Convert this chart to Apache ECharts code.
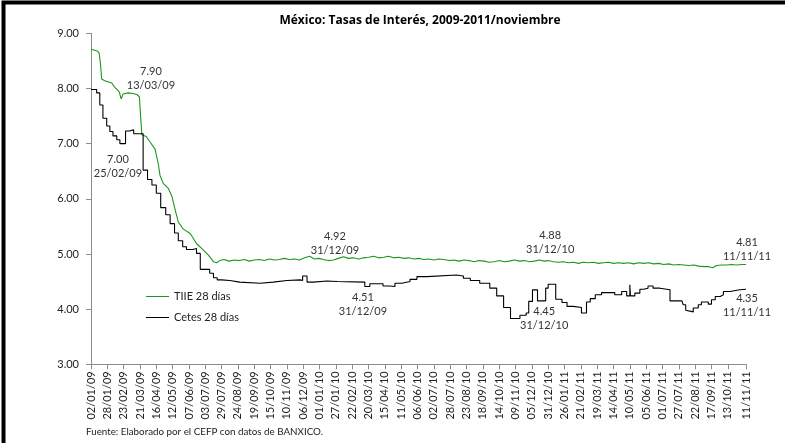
<!DOCTYPE html>
<html><head><meta charset="utf-8">
<script src="https://cdn.jsdelivr.net/npm/echarts@6/dist/echarts.min.js"></script>
<style>html,body{margin:0;padding:0;background:#fff}#c{width:785px;height:443px}</style>
</head><body><div id="c"></div>
<script>
// ---------- DATA ----------
const titleText = 'México: Tasas de Interés, 2009-2011/noviembre';
const sourceText = 'Fuente: Elaborado por el CEFP con datos de BANXICO.';
const seriesNames = ['TIIE 28 días', 'Cetes 28 días'];
const firstDay = [2009, 1, 2];
const lastDay = [2011, 11, 11];
const labelStep = 26; // one tick label every 26 days, plus the last day
const yTicks = [3, 4, 5, 6, 7, 8, 9];

const tiieDates = ['02/01/09','12/01/09','15/01/09','17/01/09','19/01/09','24/01/09','04/02/09','09/02/09','16/02/09','19/02/09','22/02/09','02/03/09','10/03/09','13/03/09','16/03/09','20/03/09','22/03/09','24/03/09','31/03/09','06/04/09','14/04/09','19/04/09','22/04/09','27/04/09','05/05/09','11/05/09','16/05/09','21/05/09','29/05/09','09/06/09','19/06/09','30/06/09','08/07/09','16/07/09','21/07/09','26/07/09','02/08/09','10/08/09','18/08/09','26/08/09','03/09/09','11/09/09','19/09/09','27/09/09','05/10/09','13/10/09','21/10/09','29/10/09','06/11/09','14/11/09','22/11/09','30/11/09','08/12/09','16/12/09','24/12/09','31/12/09','07/01/10','15/01/10','23/01/10','31/01/10','08/02/10','16/02/10','24/02/10','04/03/10','12/03/10','20/03/10','28/03/10','05/04/10','13/04/10','21/04/10','29/04/10','07/05/10','15/05/10','23/05/10','31/05/10','08/06/10','16/06/10','24/06/10','02/07/10','10/07/10','18/07/10','26/07/10','03/08/10','11/08/10','19/08/10','27/08/10','04/09/10','12/09/10','20/09/10','28/09/10','06/10/10','14/10/10','22/10/10','30/10/10','07/11/10','15/11/10','23/11/10','01/12/10','09/12/10','17/12/10','25/12/10','31/12/10','08/01/11','16/01/11','24/01/11','01/02/11','09/02/11','17/02/11','25/02/11','05/03/11','13/03/11','21/03/11','29/03/11','06/04/11','14/04/11','22/04/11','30/04/11','08/05/11','16/05/11','24/05/11','01/06/11','09/06/11','17/06/11','25/06/11','03/07/11','11/07/11','19/07/11','27/07/11','04/08/11','12/08/11','20/08/11','28/08/11','05/09/11','13/09/11','19/09/11','25/09/11','03/10/11','11/10/11','19/10/11','27/10/11','04/11/11','11/11/11'];
const tiieValues = [8.71,8.68,8.64,8.46,8.17,8.14,8.10,8.02,7.94,7.81,7.90,7.92,7.91,7.90,7.89,7.85,7.49,7.16,7.13,7.03,6.90,6.64,6.42,6.28,6.19,6.04,5.80,5.58,5.45,5.37,5.19,5.07,4.98,4.86,4.84,4.88,4.90,4.87,4.89,4.88,4.90,4.87,4.89,4.90,4.88,4.91,4.89,4.90,4.92,4.90,4.91,4.89,4.93,4.96,4.91,4.92,4.90,4.88,4.89,4.92,4.95,4.92,4.93,4.91,4.93,4.94,4.96,4.93,4.94,4.96,4.93,4.94,4.92,4.93,4.91,4.92,4.90,4.91,4.89,4.91,4.90,4.88,4.89,4.87,4.89,4.88,4.86,4.88,4.87,4.85,4.86,4.88,4.86,4.87,4.89,4.87,4.88,4.86,4.87,4.89,4.87,4.88,4.86,4.85,4.86,4.84,4.85,4.83,4.85,4.84,4.85,4.83,4.84,4.85,4.83,4.84,4.83,4.84,4.82,4.84,4.83,4.84,4.82,4.83,4.81,4.82,4.80,4.81,4.80,4.79,4.80,4.78,4.77,4.77,4.75,4.79,4.80,4.80,4.81,4.80,4.81,4.81];

const cetesDates = ['02/01/09','11/01/09','16/01/09','21/01/09','27/01/09','01/02/09','06/02/09','12/02/09','17/02/09','26/02/09','04/03/09','11/03/09','26/03/09','02/04/09','09/04/09','16/04/09','23/04/09','01/05/09','08/05/09','15/05/09','21/05/09','28/05/09','03/06/09','13/06/09','19/06/09','25/06/09','10/07/09','16/07/09','22/07/09','29/07/09','11/08/09','27/08/09','28/09/09','19/10/09','10/11/09','01/12/09','05/12/09','12/12/09','22/12/09','13/01/10','29/01/10','14/03/10','22/03/10','12/04/10','23/04/10','01/05/10','12/05/10','25/05/10','05/06/10','21/06/10','07/08/10','18/08/10','29/08/10','13/09/10','29/09/10','10/10/10','21/10/10','01/11/10','16/11/10','26/11/10','30/11/10','06/12/10','14/12/10','27/12/10','31/12/10','12/01/11','22/01/11','30/01/11','09/02/11','22/02/11','02/03/11','08/03/11','16/03/11','26/03/11','16/04/11','27/04/11','05/05/11','10/05/11','11/05/11','18/05/11','26/05/11','01/06/11','08/06/11','16/06/11','27/06/11','13/07/11','01/08/11','03/08/11','07/08/11','10/08/11','19/08/11','27/08/11','01/09/11','12/09/11','17/09/11','23/09/11','01/10/11','06/10/11','17/10/11','21/10/11','01/11/11','11/11/11'];
const cetesValues = [7.98,7.92,7.70,7.46,7.32,7.22,7.14,7.07,7.00,7.23,7.25,7.18,6.52,6.35,6.25,6.10,5.84,5.71,5.55,5.38,5.24,5.13,5.08,5.10,5.01,4.72,4.65,4.57,4.53,4.52,4.49,4.47,4.49,4.52,4.53,4.52,4.60,4.49,4.51,4.50,4.49,4.41,4.46,4.42,4.41,4.47,4.50,4.54,4.59,4.62,4.60,4.56,4.52,4.47,4.38,4.24,4.03,3.83,3.89,3.93,4.14,4.35,4.15,4.38,4.45,4.18,4.12,4.05,4.03,3.93,4.13,4.19,4.26,4.30,4.26,4.32,4.24,4.44,4.24,4.29,4.36,4.38,4.42,4.38,4.35,4.15,4.12,4.08,3.98,3.95,4.02,4.08,4.13,4.09,4.17,4.23,4.26,4.32,4.33,4.35,4.36,4.35];

// annotated points: series index, date, value
const annotSeries = [0, 1, 0, 1, 0, 1, 0, 1];
const annotDates  = ['13/03/09','25/02/09','31/12/09','31/12/09','31/12/10','31/12/10','11/11/11','11/11/11'];
const annotValues = [7.90, 7.00, 4.92, 4.51, 4.88, 4.45, 4.81, 4.35];

// ---------- STYLE ----------
const annotOffsets = [[16,-16],[-7,23],[16,-15],[44,23],[2,-18],[-4,34],[1,-15],[1,16]];
const FONT = 'Lato, "Open Sans", sans-serif';
const colors = ['#1d961d', '#000000'];
const legendLineIcon = 'path://M0,0H23V1H0Z';

// ---------- BUILD ----------
function two(n){ return (n < 10 ? '0' : '') + n; }
const categories = [];
for (let t = Date.UTC(firstDay[0], firstDay[1]-1, firstDay[2]); t <= Date.UTC(lastDay[0], lastDay[1]-1, lastDay[2]); t += 86400000) {
  const d = new Date(t);
  categories.push(two(d.getUTCDate()) + '/' + two(d.getUTCMonth()+1) + '/' + two(d.getUTCFullYear() % 100));
}
const idxOf = {};
categories.forEach((c, i) => idxOf[c] = i);
const lastIdx = categories.length - 1;
const showTick = (i) => (i % labelStep === 0 && i + labelStep <= lastIdx + 3) || i === lastIdx;

const tiieData = tiieDates.map((d, i) => [idxOf[d], tiieValues[i]]);
const cetesData = cetesDates.map((d, i) => [idxOf[d], cetesValues[i]]);

function marks(s) {
  const out = [];
  annotSeries.forEach((si, k) => {
    if (si !== s) return;
    out.push({
      coord: [idxOf[annotDates[k]], annotValues[k]],
      label: { offset: annotOffsets[k], formatter: annotValues[k].toFixed(2) + '\n' + annotDates[k] }
    });
  });
  return out;
}
const markCommon = {
  symbol: 'circle', symbolSize: 1, silent: true,
  itemStyle: { color: 'rgba(0,0,0,0)' },
  label: { show: true, position: 'inside', color: '#333', fontFamily: FONT, fontSize: 11, lineHeight: 14, align: 'center', verticalAlign: 'middle' }
};

const chart = echarts.init(document.getElementById('c'), null, { renderer: 'canvas' });
chart.setOption({
  animation: false,
  backgroundColor: '#fff',
  legend: {
    data: seriesNames.map(n => ({ name: n, icon: legendLineIcon })),
    orient: 'vertical', left: 141, top: 286,
    itemWidth: 23, itemHeight: 14, itemGap: 10,
    textStyle: { fontFamily: FONT, fontSize: 11, color: '#222' }
  },
  grid: { left: 91, right: 39, top: 33.3, bottom: 78.7, containLabel: false },
  xAxis: {
    type: 'category', data: categories, boundaryGap: false,
    axisLine: { lineStyle: { color: '#8c8c8c', width: 1 } },
    axisTick: { show: true, interval: (i) => showTick(i), length: 5, lineStyle: { color: '#8c8c8c' } },
    axisLabel: { interval: (i) => showTick(i), rotate: 90, margin: 7, fontFamily: FONT, fontSize: 11, color: '#222' },
    splitLine: { show: false }
  },
  yAxis: {
    type: 'value', min: yTicks[0], max: yTicks[yTicks.length-1], interval: 1,
    axisLine: { show: true, lineStyle: { color: '#8c8c8c', width: 1 } },
    axisTick: { show: true, length: 5, lineStyle: { color: '#8c8c8c' } },
    axisLabel: { formatter: (v) => v.toFixed(2), margin: 12, fontFamily: FONT, fontSize: 11, color: '#222' },
    splitLine: { show: false }
  },
  series: [
    { name: seriesNames[0], type: 'line', data: tiieData, symbol: 'none', showSymbol: false,
      lineStyle: { color: colors[0], width: 1.1 }, itemStyle: { color: colors[0] },
      markPoint: Object.assign({ data: marks(0) }, markCommon) },
    { name: seriesNames[1], type: 'line', step: 'end', data: cetesData, symbol: 'none', showSymbol: false,
      lineStyle: { color: colors[1], width: 1.1 }, itemStyle: { color: colors[1] },
      markPoint: Object.assign({ data: marks(1) }, markCommon) }
  ],
  graphic: [
    { type: 'rect', shape: { x: 3.5, y: 2.5, width: 1000, height: 1000 }, style: { fill: null, stroke: '#000', lineWidth: 4 }, silent: true },
    { type: 'text', x: 420, y: 21, style: { text: titleText, font: 'bold 12px "Open Sans", sans-serif', fill: '#000', align: 'center', verticalAlign: 'middle' }, silent: true },
    { type: 'text', left: 86, top: 427, style: { text: sourceText, fontFamily: FONT, fontSize: 9.8, fill: '#222' } }
  ]
});
</script>
</body></html>
